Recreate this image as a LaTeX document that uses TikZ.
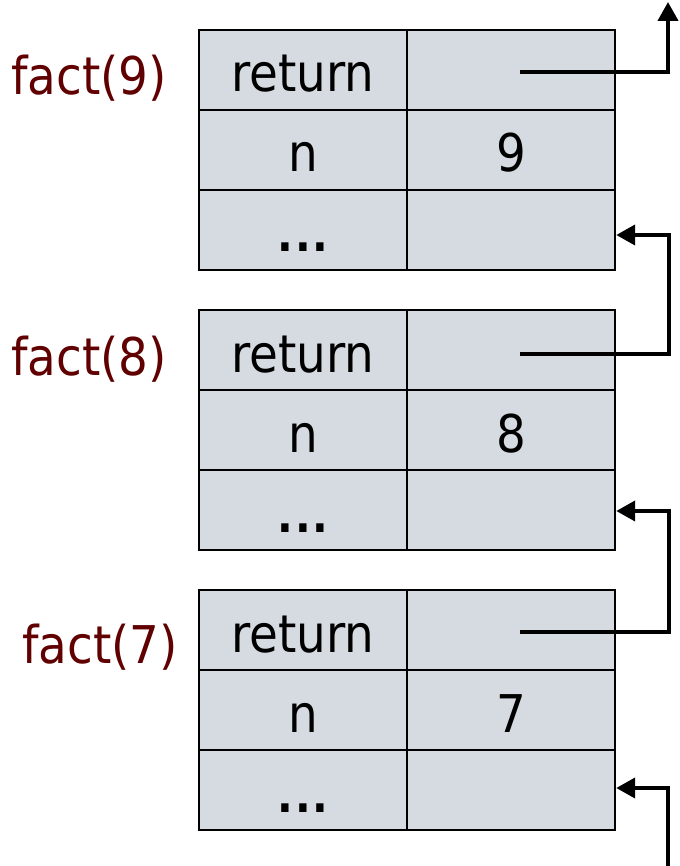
\documentclass[tikz,border=0pt]{standalone}
\usepackage{fontspec}
\setmainfont{DejaVu Sans Condensed}
\usetikzlibrary{arrows.meta}
\definecolor{cellfill}{RGB}{214,219,225}
\definecolor{lbl}{RGB}{96,0,0}
\begin{document}
\begin{tikzpicture}[x=1pt,y=1pt,
  cell/.style={draw=black,line width=2.4pt,fill=cellfill,minimum width=208pt,minimum height=80pt,
    inner sep=0pt,text height=52pt,text depth=8pt,font=\fontsize{52}{60}\selectfont},
  lab/.style={anchor=base,text=lbl,inner sep=0pt,font=\fontsize{52}{60}\selectfont},
  conn/.style={line width=4pt,-{Triangle[length=19pt,width=20pt]}}]
\useasboundingbox (0,0) rectangle (679,-866);
\foreach \k/\t/\ly/\lx in {9/30/95/89, 8/310/375/89, 7/590/663/100}{
  \node[cell] (rk\k) at (303,-\t-40) {return};
  \node[cell] (rv\k) at (511,-\t-40) {};
  \node[cell] (nk\k) at (303,-\t-120) {n};
  \node[cell] (nv\k) at (511,-\t-120) {\k};
  \node[cell] (dk\k) at (303,-\t-200) {\fontsize{46}{54}\selectfont\bfseries .\kern2pt.\kern2pt.};
  \node[cell] (dv\k) at (511,-\t-200) {};
  \node[lab] (lab\k) at (\lx,-\ly) {fact(\k)};
}
\coordinate (up) at (668,-2);
\coordinate (bot) at (668,-866);
\draw[conn] ([xshift=9pt,yshift=-2pt]rv9.center) -| (up);
\draw[conn] ([xshift=9pt,yshift=-4pt]rv8.center) -| ([xshift=53pt,yshift=-5pt]dv9.east) -- ([yshift=-5pt]dv9.east);
\draw[conn] ([xshift=9pt,yshift=-2pt]rv7.center) -| ([xshift=53pt,yshift=-1pt]dv8.east) -- ([yshift=-1pt]dv8.east);
\draw[conn] (bot) |- ([yshift=2pt]dv7.east);
\end{tikzpicture}
\end{document}
